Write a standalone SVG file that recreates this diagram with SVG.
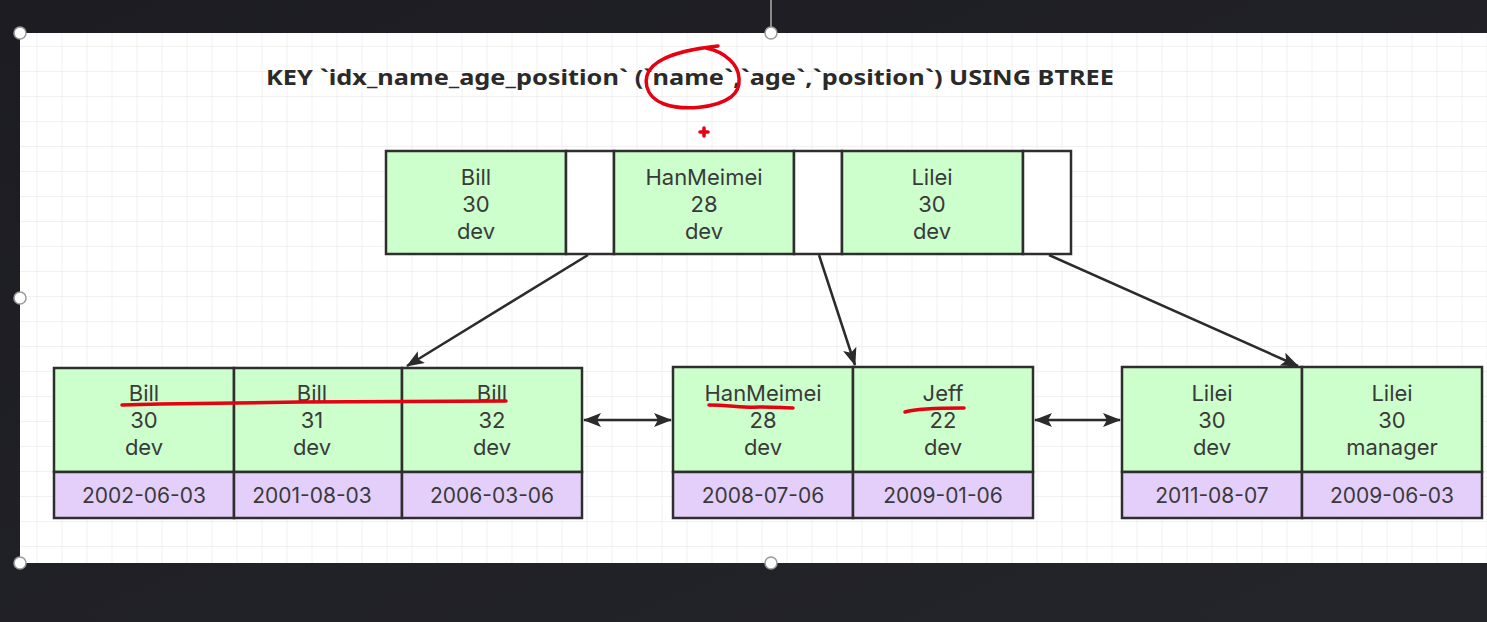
<svg xmlns="http://www.w3.org/2000/svg" width="1487" height="622" viewBox="0 0 1487 622">
  <defs>
    <pattern id="grid" x="12.5" y="22" width="25" height="25" patternUnits="userSpaceOnUse">
      <path d="M25 0 V25 M0 25 H25" fill="none" stroke="#e3e3e3" stroke-width="1"/>
    </pattern>
    <marker id="arr" viewBox="0 0 18 14" refX="17" refY="7" markerWidth="18" markerHeight="14" markerUnits="userSpaceOnUse" orient="auto-start-reverse">
      <path d="M0 0 L18 7 L0 14 L4 7 Z" fill="#2b2b2b"/>
    </marker>
    <linearGradient id="bg" x1="0" y1="0" x2="1" y2="1">
      <stop offset="0" stop-color="#1c1c22"/>
      <stop offset="1" stop-color="#24242b"/>
    </linearGradient>
  </defs>
  <style>
    .g { fill: #ccffcc; stroke: #2e2e2e; stroke-width: 2.5; }
    .p { fill: #e4cffb; stroke: #2e2e2e; stroke-width: 2.5; }
    .w { fill: #ffffff; stroke: #2e2e2e; stroke-width: 2.5; }
    .t { font-family: Inter, "Noto Sans", sans-serif; font-size: 22px; fill: #3a3a3a; text-anchor: middle; }
    .d { font-family: Inter, "Noto Sans", sans-serif; font-size: 21px; fill: #3a3a3a; text-anchor: middle; }
    .title { font-family: "Noto Sans", "Open Sans", sans-serif; font-size: 21px; font-weight: bold; fill: #2a2a2a; }
    .c { fill: none; stroke: #2b2b2b; stroke-width: 2.5; marker-end: url(#arr); }
    .cd { fill: none; stroke: #2b2b2b; stroke-width: 2.5; marker-end: url(#arr); marker-start: url(#arr); }
    .red { fill: none; stroke: #e60012; stroke-width: 3.5; stroke-linecap: round; stroke-linejoin: round; }
    .h { fill: #ffffff; stroke: #9a9a9a; stroke-width: 1.5; }
  </style>

  <rect x="0" y="0" width="1487" height="622" fill="url(#bg)"/>
  <rect x="20" y="33" width="1467" height="530" fill="#ffffff"/>
  <rect x="20" y="33" width="1467" height="530" fill="url(#grid)"/>
  <line x1="771" y1="0" x2="771" y2="30" stroke="#8a8a8a" stroke-width="2"/>

  <text class="title" x="266" y="85" textLength="848" lengthAdjust="spacingAndGlyphs">KEY `idx_name_age_position` (`name`,`age`,`position`) USING BTREE</text>

  <g id="root">
    <rect class="g" x="386" y="151" width="180" height="103"/>
    <rect class="w" x="566" y="151" width="48" height="103"/>
    <rect class="g" x="614" y="151" width="180" height="103"/>
    <rect class="w" x="794" y="151" width="48" height="103"/>
    <rect class="g" x="842" y="151" width="181" height="103"/>
    <rect class="w" x="1023" y="151" width="48" height="103"/>
    <text class="t" y="185"><tspan x="476">Bill</tspan><tspan x="476" dy="27">30</tspan><tspan x="476" dy="27">dev</tspan></text>
    <text class="t" y="185"><tspan x="704">HanMeimei</tspan><tspan x="704" dy="27">28</tspan><tspan x="704" dy="27">dev</tspan></text>
    <text class="t" y="185"><tspan x="932">Lilei</tspan><tspan x="932" dy="27">30</tspan><tspan x="932" dy="27">dev</tspan></text>
  </g>

  <g id="leaf1">
    <rect class="g" x="54" y="368" width="180" height="104"/>
    <rect class="g" x="234" y="368" width="168" height="104"/>
    <rect class="g" x="402" y="368" width="180" height="104"/>
    <rect class="p" x="54" y="472" width="180" height="46"/>
    <rect class="p" x="234" y="472" width="168" height="46"/>
    <rect class="p" x="402" y="472" width="180" height="46"/>
    <text class="t" y="401"><tspan x="144">Bill</tspan><tspan x="144" dy="27">30</tspan><tspan x="144" dy="27">dev</tspan></text>
    <text class="t" y="401"><tspan x="312">Bill</tspan><tspan x="312" dy="27">31</tspan><tspan x="312" dy="27">dev</tspan></text>
    <text class="t" y="401"><tspan x="492">Bill</tspan><tspan x="492" dy="27">32</tspan><tspan x="492" dy="27">dev</tspan></text>
    <text class="d" x="144" y="503">2002-06-03</text>
    <text class="d" x="312" y="503">2001-08-03</text>
    <text class="d" x="492" y="503">2006-03-06</text>
  </g>

  <g id="leaf2">
    <rect class="g" x="673" y="367" width="180" height="105"/>
    <rect class="g" x="853" y="367" width="180" height="105"/>
    <rect class="p" x="673" y="472" width="180" height="46"/>
    <rect class="p" x="853" y="472" width="180" height="46"/>
    <text class="t" y="401"><tspan x="763">HanMeimei</tspan><tspan x="763" dy="27">28</tspan><tspan x="763" dy="27">dev</tspan></text>
    <text class="t" y="401"><tspan x="943">Jeff</tspan><tspan x="943" dy="27">22</tspan><tspan x="943" dy="27">dev</tspan></text>
    <text class="d" x="763" y="503">2008-07-06</text>
    <text class="d" x="943" y="503">2009-01-06</text>
  </g>

  <g id="leaf3">
    <rect class="g" x="1122" y="367" width="180" height="105"/>
    <rect class="g" x="1302" y="367" width="180" height="105"/>
    <rect class="p" x="1122" y="472" width="180" height="46"/>
    <rect class="p" x="1302" y="472" width="180" height="46"/>
    <text class="t" y="401"><tspan x="1212">Lilei</tspan><tspan x="1212" dy="27">30</tspan><tspan x="1212" dy="27">dev</tspan></text>
    <text class="t" y="401"><tspan x="1392">Lilei</tspan><tspan x="1392" dy="27">30</tspan><tspan x="1392" dy="27">manager</tspan></text>
    <text class="d" x="1212" y="503">2011-08-07</text>
    <text class="d" x="1392" y="503">2009-06-03</text>
  </g>

  <g id="connectors">
    <line class="c" x1="588" y1="255" x2="407" y2="366"/>
    <line class="c" x1="819" y1="255" x2="855" y2="365"/>
    <line class="c" x1="1049" y1="255" x2="1298" y2="366"/>
    <line class="cd" x1="584" y1="420" x2="671" y2="420"/>
    <line class="cd" x1="1035" y1="420" x2="1120" y2="420"/>
  </g>

  <g id="annotations">
    <path class="red" d="M718 46 C700 48 668 52 653 66 C641 78 645 97 664 104 C684 111 716 108 731 97 C743 88 741 70 730 60 C724 54 716 50 706 48"/>
    <path class="red" d="M700 132 H708 M704 128 V136" stroke-width="2.5"/>
    <path class="red" d="M122 405 L160 404 L300 402 L506 401"/>
    <path class="red" d="M709 405 C730 405 742 408 760 407 C775 407 785 408 793 408"/>
    <path class="red" d="M905 412 C915 409 935 408 964 408"/>
  </g>

  <g id="handles">
    <circle class="h" cx="20" cy="33" r="6"/>
    <circle class="h" cx="771" cy="33" r="6"/>
    <circle class="h" cx="20" cy="298" r="6"/>
    <circle class="h" cx="20" cy="563" r="6"/>
    <circle class="h" cx="771" cy="563" r="6"/>
  </g>
</svg>
